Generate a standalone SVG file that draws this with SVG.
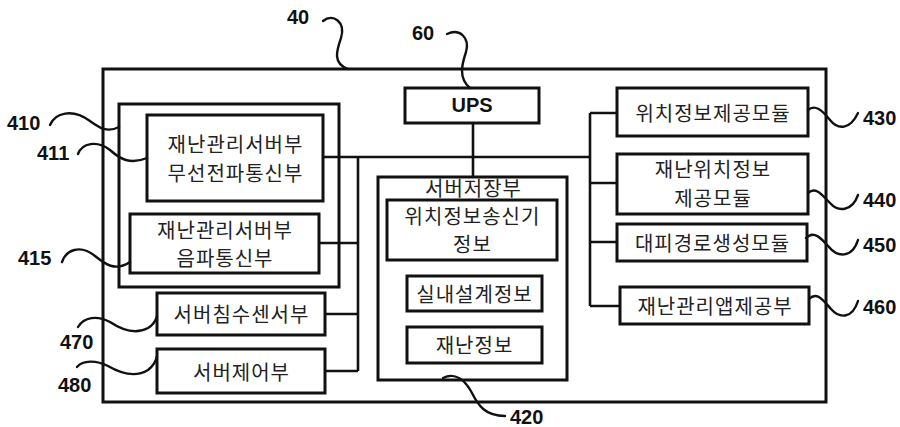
<svg xmlns="http://www.w3.org/2000/svg" width="900" height="427" viewBox="0 0 900 427">
<style>
.box{fill:none;stroke:#111;stroke-width:3}
.ln{fill:none;stroke:#111;stroke-width:2.6}
.sq{fill:none;stroke:#111;stroke-width:2.4;stroke-linecap:round}
.kt{font-family:"Noto Sans CJK KR","Noto Sans",sans-serif;font-size:20px;letter-spacing:1px;fill:#222;text-anchor:middle;dominant-baseline:central}
.num{font-family:"Liberation Sans",Arial,sans-serif;font-size:20px;font-weight:bold;fill:#111;dominant-baseline:central}
</style>
<rect width="900" height="427" fill="#fff"/>
<g id="connectors">
<path class="ln" d="M473,123 V177"/>
<path class="ln" d="M323,157 H590"/>
<path class="ln" d="M358,157 V371"/>
<path class="ln" d="M319,243 H358 M325,314 H358 M325,371 H358"/>
<path class="ln" d="M590,113 V306"/>
<path class="ln" d="M590,113 H617 M590,183 H617 M590,242 H617 M590,306 H620"/>
</g>
<g id="n40"><rect class="box" x="103" y="69" width="723" height="333"/></g>
<g id="n410"><rect class="box" x="119" y="104" width="220" height="183"/></g>
<g id="n411"><rect class="box" x="147" y="115" width="176" height="86"/>
<text class="kt" x="235.5" y="143">재난관리서버부</text><text class="kt" x="235.5" y="172">무선전파통신부</text></g>
<g id="n415"><rect class="box" x="130" y="214" width="189" height="59"/>
<text class="kt" x="225" y="229">재난관리서버부</text><text class="kt" x="225" y="257">음파통신부</text></g>
<g id="n470"><rect class="box" x="157" y="293" width="168" height="42"/><text class="kt" x="241.5" y="313">서버침수센서부</text></g>
<g id="n480"><rect class="box" x="157" y="349" width="168" height="44"/><text class="kt" x="241.5" y="371">서버제어부</text></g>
<g id="n60"><rect class="box" x="405" y="88" width="134" height="35"/>
<text x="472" y="105" style="font-family:'Liberation Sans',Arial,sans-serif;font-size:20px;font-weight:bold;fill:#111;text-anchor:middle;dominant-baseline:central">UPS</text></g>
<g id="n420"><rect class="box" x="378" y="177" width="189" height="203"/>
<text class="kt" x="473.5" y="187">서버저장부</text>
<rect class="box" x="387" y="200" width="170" height="60"/>
<text class="kt" x="472.5" y="215">위치정보송신기</text><text class="kt" x="472.5" y="243">정보</text>
<rect class="box" x="407" y="276" width="135" height="35"/><text class="kt" x="474.5" y="293">실내설계정보</text>
<rect class="box" x="407" y="327" width="135" height="36"/><text class="kt" x="474.5" y="344">재난정보</text></g>
<g id="n430"><rect class="box" x="617" y="88" width="191" height="48"/><text class="kt" x="713" y="112">위치정보제공모듈</text></g>
<g id="n440"><rect class="box" x="617" y="154" width="191" height="60"/>
<text class="kt" x="713" y="168">재난위치정보</text><text class="kt" x="713" y="197">제공모듈</text></g>
<g id="n450"><rect class="box" x="617" y="224" width="190" height="37"/><text class="kt" x="712.5" y="242">대피경로생성모듈</text></g>
<g id="n460"><rect class="box" x="620" y="287" width="189" height="37"/><text class="kt" x="715" y="305">재난관리앱제공부</text></g>
<g id="labels">
<text class="num" x="287" y="17">40</text>
<path class="sq" d="M323,21 C333,13 346,22 341,38 C337,50 332,63 348,69"/>
<text class="num" x="412" y="33">60</text>
<path class="sq" d="M447,34 C460,28 470,38 466,52 C462,64 458,78 470,88"/>
<text class="num" x="7" y="123">410</text>
<path class="sq" d="M50,125 C55,113 72,108 90,121 C100,128 107,133 119,127"/>
<text class="num" x="37" y="153">411</text>
<path class="sq" d="M78,154 C82,143 97,140 110,150 C120,159 130,165 147,158"/>
<text class="num" x="18" y="258">415</text>
<path class="sq" d="M62,262 C66,250 80,244 95,256 C105,264 115,272 130,262"/>
<text class="num" x="60" y="342">470</text>
<path class="sq" d="M78,327 C84,317 97,315 110,322 C122,330 135,335 148,328 C153,325 156,320 157,316"/>
<text class="num" x="58" y="385">480</text>
<path class="sq" d="M77,367 C83,360 96,360 108,366 C120,373 135,378 148,370 C153,366 156,362 157,356"/>
<text class="num" x="863" y="118">430</text>
<path class="sq" d="M808,110 C815,104 822,110 830,120 C838,130 850,130 858,113"/>
<text class="num" x="863" y="200">440</text>
<path class="sq" d="M808,193 C816,186 822,195 830,203 C838,212 852,212 858,195"/>
<text class="num" x="863" y="245">450</text>
<path class="sq" d="M806,238 C814,230 821,238 829,247 C837,257 852,259 858,240"/>
<text class="num" x="863" y="307">460</text>
<path class="sq" d="M809,299 C817,291 823,300 831,309 C839,318 852,320 858,301"/>
<text class="num" x="510" y="417">420</text>
<path class="sq" d="M443,378 C455,372 465,380 472,393 C478,405 485,416 505,416"/>
</g>
</svg>
